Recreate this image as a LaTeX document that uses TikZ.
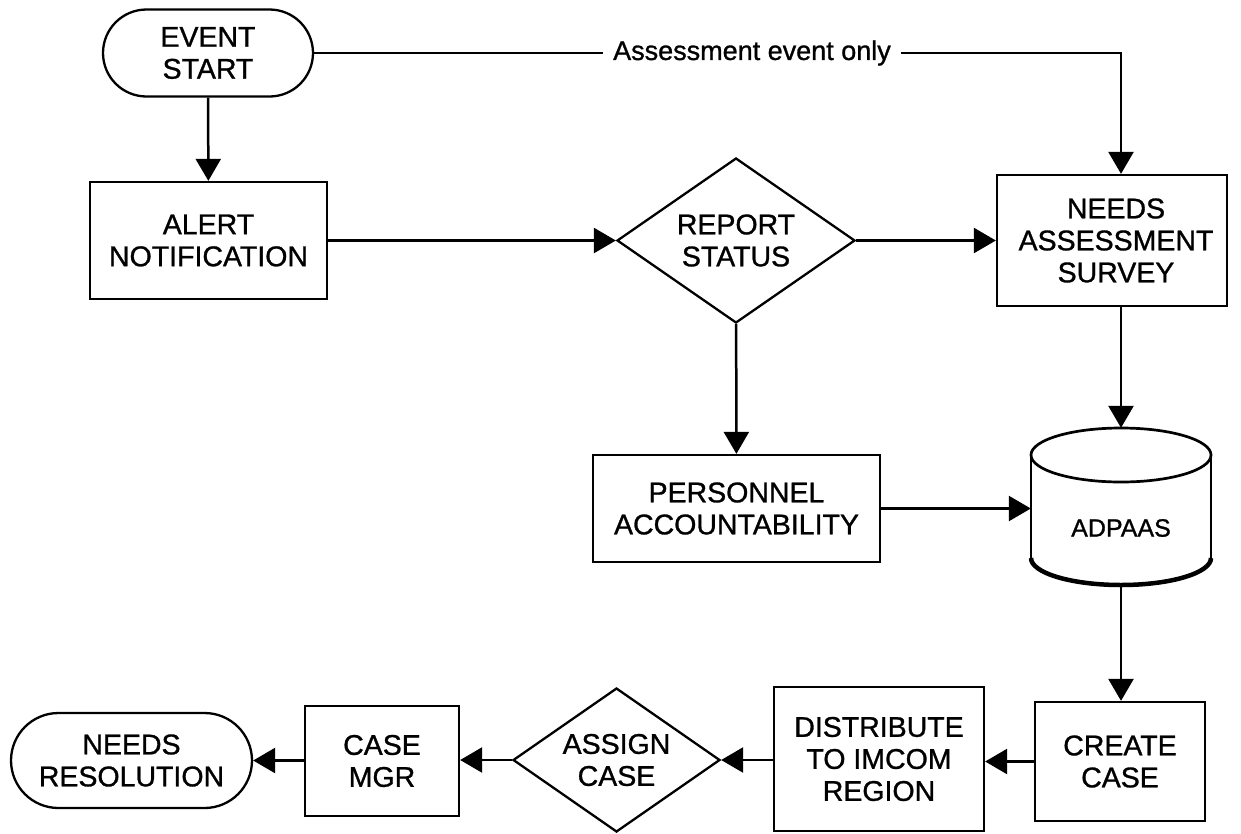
\documentclass[tikz,border=0pt]{standalone}
\usepackage{fontspec}
\setmainfont{Liberation Sans}[FakeBold=1.0]
\usetikzlibrary{shapes.geometric,shapes.misc,arrows.meta}
\begin{document}
\begin{tikzpicture}[x=1pt,y=-1pt,
  every node/.style={inner sep=0pt, align=center, font=\fontsize{28.5}{32}\selectfont},
  box/.style={draw, rectangle, line width=2.3pt},
  term/.style={draw, rounded rectangle, line width=2.3pt},
  decision/.style={draw, diamond, aspect=1.44, line width=2.3pt},
  arr/.style={line width=2.5pt, -{Triangle[length=22pt,width=25pt]}},
  lbl/.style={fill=white, inner xsep=10pt, inner ysep=4pt, font=\fontsize{27}{30}\selectfont}
]
\useasboundingbox (0,0) rectangle (1241,833);

% top row
\node[term, minimum width=210pt, minimum height=87pt] (event) at (208,53) {EVENT\\START};
\node[box, minimum width=237pt, minimum height=117pt] (alert) at (208.5,240.5) {ALERT\\NOTIFICATION};
\node[decision, minimum width=238pt, minimum height=165pt] (report) at (736,240.5) {REPORT\\STATUS};
\node[box, minimum width=230pt, minimum height=131pt] (needs) at (1112,240.5) {\hspace*{8pt}NEEDS\\\hspace*{8pt}ASSESSMENT\\\hspace*{8pt}SURVEY};
\node[box, minimum width=287pt, minimum height=107pt] (personnel) at (736.5,508.5) {PERSONNEL\\ACCOUNTABILITY};

% cylinder ADPAAS
\node[minimum width=180pt, minimum height=157pt] (adpaas) at (1121,506.5) {};
\draw[line width=2.7pt] (1121,455) ellipse [x radius=90, y radius=27];
\draw[line width=2.7pt] (1031,455) -- (1031,558);
\draw[line width=2.7pt] (1211,455) -- (1211,558);
\draw[line width=4.5pt] (1031,558) arc [start angle=180, end angle=0, x radius=90, y radius=27];
\node[font=\fontsize{25}{28}\selectfont] (adpaastext) at (1121,528) {ADPAAS};

% bottom row
\node[box, minimum width=170pt, minimum height=119pt] (create) at (1120,761.5) {CREATE\\CASE};
\node[box, minimum width=210pt, minimum height=144pt] (distribute) at (879,759) {DISTRIBUTE\\TO IMCOM\\REGION};
\node[decision, minimum width=207pt, minimum height=144pt] (assign) at (616.5,760) {ASSIGN\\CASE};
\node[box, minimum width=154pt, minimum height=110pt] (casemgr) at (382,761) {CASE\\MGR};
\node[term, minimum width=241pt, minimum height=95pt] (resolution) at (131.5,760.5) {NEEDS\\RESOLUTION};

% connectors
\draw[arr] (event) -- (alert);
\draw[arr] (event.east) -| (needs.north -| adpaas.north);
\node[lbl] (assesslbl) at (752,53) {Assessment event only};
\draw[arr] (alert) -- (report);
\draw[arr] (report) -- (needs);
\draw[arr] (report) -- (personnel);
\draw[arr] (needs.south -| adpaas.north) -- (adpaas.north);
\draw[arr] (personnel.east) -- (personnel.east -| adpaas.west);
\draw[arr] (adpaas.south) -- (create.north -| adpaas.south);
\draw[arr] (create.west) -- (distribute.east |- create.west);
\draw[arr] (distribute.west |- assign.east) -- (assign.east);
\draw[arr] (assign.west) -- (casemgr.east |- assign.west);
\draw[arr] (casemgr.west |- resolution.east) -- (resolution.east);
\end{tikzpicture}
\end{document}
